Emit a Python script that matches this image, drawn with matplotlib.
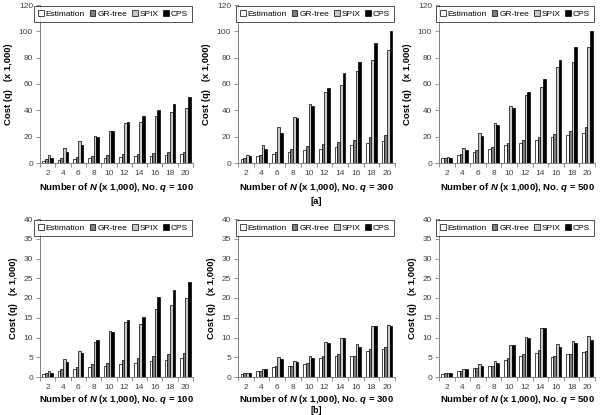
import matplotlib
matplotlib.use("Agg")
import matplotlib.pyplot as plt
import numpy as np

N_vals = [2, 4, 6, 8, 10, 12, 14, 16, 18, 20]
series_names = ["Estimation", "GR-tree", "SPIX", "CPS"]
q_labels = [100, 300, 500]

# Row (a)
a100_est = [1.5, 2, 3, 3.5, 4, 4.5, 5, 5.5, 6, 6.5]
a100_gr = [3, 4, 4.5, 5, 6, 6.5, 7, 7.5, 8, 8.5]
a100_spix = [6, 11.5, 16.5, 20.5, 24.5, 30, 31, 36, 38.5, 42]
a100_cps = [4, 8.5, 14, 19.5, 24, 31, 35.5, 40, 45, 50]

a300_est = [3, 5, 7, 8, 10, 11, 12, 14, 15, 16.5]
a300_gr = [4, 6, 8.5, 11, 13, 14.5, 16, 17.5, 19.5, 21]
a300_spix = [6, 14, 27, 35, 45, 54, 59.5, 70, 78, 86]
a300_cps = [5, 11, 22.5, 34, 43.5, 57, 68, 77, 91, 100]

a500_est = [3.5, 6, 8.5, 11, 13.5, 15.5, 17.5, 19.5, 21, 23]
a500_gr = [3.5, 6.5, 9.5, 12, 15, 17.5, 20, 22, 24, 27]
a500_spix = [4.5, 11.5, 23, 30.5, 43.5, 52, 57.5, 73, 77, 88]
a500_cps = [4, 10, 20.5, 29, 42, 54, 63.5, 78.5, 88, 100]

# Row (b)
b100_est = [0.7, 1.5, 2, 2.5, 2.8, 3.2, 3.6, 4, 4.4, 4.8]
b100_gr = [1, 2, 2.6, 3.2, 3.6, 4.2, 4.8, 5.3, 5.8, 6.2]
b100_spix = [1.5, 4.5, 6.5, 8.8, 11.6, 13.8, 13.4, 17.2, 18.3, 20]
b100_cps = [1.1, 3.7, 6, 9.3, 11.5, 14.4, 15.2, 20.2, 22, 24.1]

b300_est = [0.8, 1.5, 2.5, 2.7, 3.4, 4.7, 5.2, 5.2, 6.5, 7]
b300_gr = [0.9, 1.6, 2.8, 2.8, 3.5, 5.2, 5.8, 5.3, 7.2, 7.6]
b300_spix = [1.1, 2.1, 5, 4, 5.2, 8.9, 9.9, 8.4, 12.8, 13.1]
b300_cps = [0.9, 1.9, 4.6, 3.7, 4.7, 8.7, 9.8, 7.6, 13, 13]

b500_est = [0.8, 1.5, 2.2, 2.7, 4.4, 5.2, 6.2, 5.1, 5.8, 6.4]
b500_gr = [0.9, 1.6, 2.3, 2.7, 4.8, 5.7, 6.8, 5.3, 5.9, 6.6]
b500_spix = [1.0, 2.1, 3.2, 4.0, 8.2, 10.1, 12.5, 8.3, 9.1, 10.3]
b500_cps = [0.9, 1.9, 2.8, 3.6, 8, 9.8, 12.5, 7.6, 8.5, 9.4]

panels = [
    [(a100_est, a100_gr, a100_spix, a100_cps), (a300_est, a300_gr, a300_spix, a300_cps),
     (a500_est, a500_gr, a500_spix, a500_cps)],
    [(b100_est, b100_gr, b100_spix, b100_cps), (b300_est, b300_gr, b300_spix, b300_cps),
     (b500_est, b500_gr, b500_spix, b500_cps)],
]
row_ylim = [(0, 120, 20), (0, 40, 5)]
colors = ["#ffffff", "#7f7f7f", "#c8c8c8", "#000000"]

FONT = 'Liberation Sans'
plt.rcParams['font.family'] = [FONT, 'DejaVu Sans']
plt.rcParams['mathtext.fontset'] = 'custom'
plt.rcParams['mathtext.rm'] = FONT
plt.rcParams['mathtext.bf'] = FONT + ':bold'
plt.rcParams['mathtext.it'] = FONT + ':italic'
try:
    plt.rcParams['mathtext.bfit'] = FONT + ':bold:italic'
    ITAL = r"\mathbfit"
except KeyError:
    ITAL = r"\mathit"

fig = plt.figure(figsize=(6, 4.15), dpi=100)

lefts = [40 / 600, 238 / 600, 439 / 600]
widths = [153 / 600, 157 / 600, 156 / 600]
bottoms = [1 - 163 / 415, 1 - 377 / 415]
height = 158 / 415

x = np.arange(len(N_vals))
bw = 0.17
offsets = (np.arange(4) - 1.5) * bw

for r in range(2):
    for c in range(3):
        ax = fig.add_axes([lefts[c], bottoms[r], widths[c], height])
        data = panels[r][c]
        for k in range(4):
            ax.bar(x + offsets[k], data[k], width=bw, color=colors[k],
                   edgecolor="black", linewidth=0.5, label=series_names[k])
        ymin, ymax, step = row_ylim[r]
        ax.set_ylim(ymin, ymax)
        ax.set_yticks(np.arange(ymin, ymax + 0.1, step))
        ax.set_xlim(-0.5, len(N_vals) - 0.5)
        ax.set_xticks(x)
        ax.set_xticklabels([str(v) for v in N_vals])
        ax.set_xticks(np.arange(-0.5, len(N_vals), 1), minor=True)
        ax.tick_params(axis='x', which='major', length=0, labelsize=6, colors='#404040', pad=5)
        ax.tick_params(axis='x', which='minor', length=3, width=0.6, color='#808080')
        ax.tick_params(axis='y', length=3, width=0.6, labelsize=6, colors='#404040', pad=2)
        ax.tick_params(axis='y', color='#808080')
        for s in ["top", "right"]:
            ax.spines[s].set_visible(False)
        for s in ["left", "bottom"]:
            ax.spines[s].set_color('#808080')
            ax.spines[s].set_linewidth(0.7)
        ax.set_ylabel("Cost (q)   (x 1,000)", fontsize=6.8, fontweight='bold', labelpad=4)
        ax.set_xlabel(r"Number of $" + ITAL + r"{N}$ (x 1,000), No. $" + ITAL + r"{q}$ = "
                      + str(q_labels[c]), fontsize=6.8, fontweight='bold',
                      labelpad=3 if r == 0 else 1.5)
        leg = ax.legend(loc='upper right', ncol=4, fontsize=6, frameon=True, fancybox=False,
                        handlelength=0.7, handleheight=0.7, handletextpad=0.2, columnspacing=0.6,
                        borderpad=0.45, borderaxespad=0.15, edgecolor='black')
        leg.get_frame().set_linewidth(0.6)

fig.text(lefts[1] + widths[1] / 2, 1 - 201 / 415, "[a]", ha='center', va='center',
         fontsize=6.8, fontweight='bold')
fig.text(lefts[1] + widths[1] / 2, 0.001, "[b]", ha='center', va='bottom',
         fontsize=6.5, fontweight='bold')

fig.savefig("out.png", dpi=100)
